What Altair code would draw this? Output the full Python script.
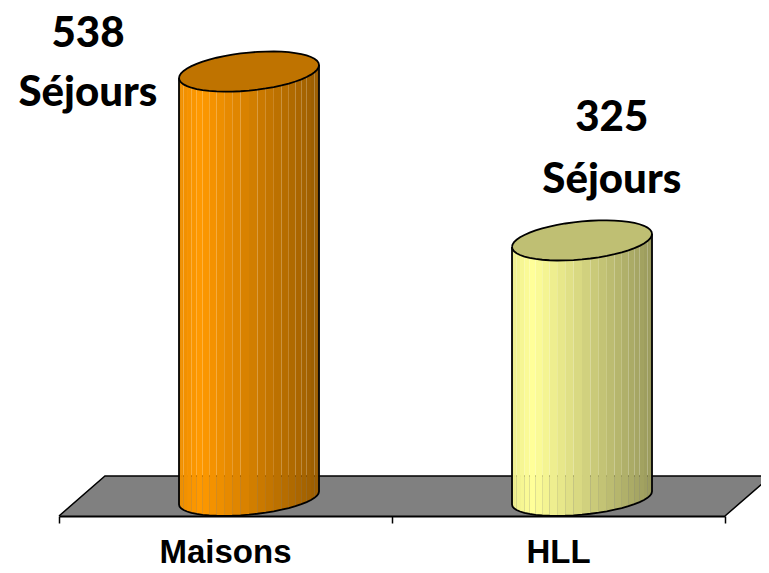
import math
import altair as alt
import pandas as pd

categories = ["Maisons", "HLL"]
sejours = [538, 325]
value_labels = ["538", "325"]
unit_labels = ["Séjours", "Séjours"]
top_colors = ["#BF7300", "#BFBF73"]
side_colors = [(255, 153, 0), (255, 255, 153)]
label_x = [0.087, 1.66]
number_y = [569.0, 463.0]
unit_y = [494.6, 384.8]

X_DOMAIN = [0, 2]
Y_DOMAIN = [-22.7, 618.2]
CENTER = [0.5706, 1.5706]
A = 0.2102          # half width of a cylinder, in category units
TILT = 8.2          # rise of the ellipse across half its width, in series units
B_TOP = 24.0
B_BOTTOM = 21.0
N = 26

x_enc = alt.X("x:Q", scale=alt.Scale(domain=X_DOMAIN, nice=False, zero=False),
              axis=alt.Axis(values=[0, 1, 2], labels=False, title=None, grid=False,
                            domainColor="black", domainWidth=2, tickColor="black",
                            tickWidth=1.5, tickSize=7, zindex=1))
y_enc = alt.Y("y:Q", scale=alt.Scale(domain=Y_DOMAIN, nice=False, zero=False), axis=None)


def shade(p):
    f = 0.93 + 0.07 * p / 0.15 if p < 0.15 else 1 - 0.4 * (p - 0.15) / 0.85
    return f


strips, tops, outline, rims = [], [], [], []
for s, (cat, val, cx, base) in enumerate(zip(categories, sejours, CENTER, side_colors)):
    for i in range(N):
        for j in (i, i + 1):
            th = math.pi * (1 - j / N)
            c, sn = math.cos(th), math.sin(th)
            p0 = (1 + math.cos(math.pi * (1 - i / N))) / 2
            p1 = (1 + math.cos(math.pi * (1 - (i + 1) / N))) / 2
            f = shade((p0 + p1) / 2)
            col = "#%02X%02X%02X" % tuple(round(b * f) for b in base)
            strips.append({"cat": cat, "strip": i, "x": cx + A * c,
                           "y": val + TILT * c, "y2": TILT * c - B_BOTTOM * sn, "c": col})
    for i in range(N + 1):
        th = math.pi * (1 - i / N)
        c, sn = math.cos(th), math.sin(th)
        tops.append({"cat": cat, "x": cx + A * c, "y": val + TILT * c + B_TOP * sn,
                     "y2": val + TILT * c - B_TOP * sn, "c": top_colors[s]})
    for i in range(2 * N + 1):
        th = math.pi * (1 - i / N)
        c, sn = math.cos(th), math.sin(th)
        outline.append({"id": cat + "t", "o": i, "x": cx + A * c,
                        "y": val + TILT * c + B_TOP * sn})
    rims.append({"id": cat + "r", "o": 0, "x": cx - A, "y": val - TILT})
    for i in range(N + 1):
        th = math.pi * (1 - i / N)
        c, sn = math.cos(th), math.sin(th)
        rims.append({"id": cat + "r", "o": i + 1, "x": cx + A * c, "y": TILT * c - B_BOTTOM * sn})
    rims.append({"id": cat + "r", "o": N + 2, "x": cx + A, "y": val + TILT})

floor_x = [0, 0.138, 2, 2.138]
floor_top = [-22.7, 27.8, 27.8, 27.8]
floor_low = [-22.7, -22.7, -22.7, 27.8]
floor_df = pd.DataFrame({"x": floor_x, "y": floor_top, "y2": floor_low})
floor_line = pd.DataFrame({"x": [0, 0.138, 2.138, 2], "y": [-22.7, 27.8, 27.8, -22.7], "o": [0, 1, 2, 3]})

floor = alt.Chart(floor_df).mark_area(color="#808080", orient="vertical").encode(
    x=x_enc, y=y_enc, y2="y2:Q")
floor_edge = alt.Chart(floor_line).mark_line(color="black", strokeWidth=1.5).encode(
    x=x_enc, y=y_enc, order="o:Q")
sides = alt.Chart(pd.DataFrame(strips)).mark_area(orient="vertical").encode(
    x=x_enc, y=y_enc, y2="y2:Q",
    detail=["cat:N", "strip:Q"], color=alt.Color("c:N", scale=None))
top_faces = alt.Chart(pd.DataFrame(tops)).mark_area(orient="vertical").encode(
    x=x_enc, y=y_enc, y2="y2:Q", detail="cat:N",
    color=alt.Color("c:N", scale=None))
rim_lines = alt.Chart(pd.DataFrame(outline + rims)).mark_line(color="black", strokeWidth=1.8).encode(
    x=x_enc, y=y_enc, detail="id:N", order="o:Q")

labels = pd.DataFrame({
    "x": label_x * 2,
    "y": number_y + unit_y,
    "t": value_labels + unit_labels,
})
value_text = alt.Chart(labels).mark_text(font="Lato", fontWeight=900, fontSize=42,
                                         align="center", baseline="alphabetic", color="black").encode(
    x=x_enc, y=y_enc, text="t:N")

cat_df = pd.DataFrame({"x": [0.5, 1.5], "y": [-22.7, -22.7], "t": categories})
cat_text = alt.Chart(cat_df).mark_text(font="Liberation Sans", fontWeight="bold", fontSize=33,
                                       align="center", baseline="alphabetic", dy=47, color="black").encode(
    x=x_enc, y=y_enc, text="t:N")

chart = alt.layer(floor, floor_edge, sides, top_faces, rim_lines, value_text, cat_text).properties(
    width=666, height=508, background="white",
    autosize=alt.AutoSizeParams(type="none"),
    padding={"left": 51, "right": 36, "top": 0, "bottom": 49},
).configure_view(strokeWidth=0)

chart.save("out.html", embed_options={"renderer": "svg", "actions": False})
